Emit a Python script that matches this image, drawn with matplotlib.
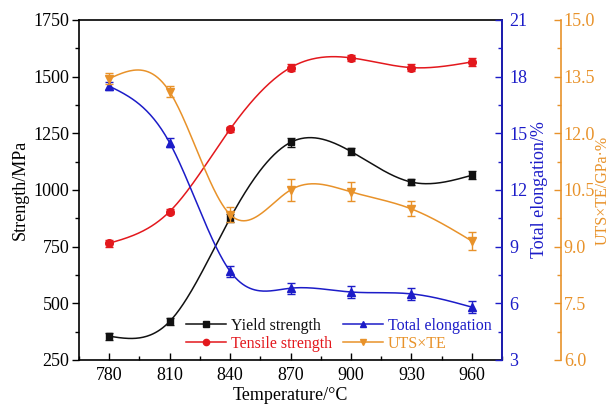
import numpy as np
import matplotlib
matplotlib.use("Agg")
import matplotlib.pyplot as plt
from matplotlib.ticker import MultipleLocator, FormatStrFormatter

plt.rcParams['font.family'] = ['Liberation Serif', 'DejaVu Serif']

temperature = [780, 810, 840, 870, 900, 930, 960]
yield_strength = [355, 420, 875, 1210, 1170, 1035, 1065]
yield_err = [15, 15, 18, 20, 15, 15, 18]
tensile_strength = [765, 905, 1268, 1540, 1583, 1540, 1565]
tensile_err = [15, 12, 12, 15, 12, 15, 18]
total_elongation = [17.5, 14.5, 7.7, 6.8, 6.6, 6.5, 5.8]
elongation_err = [0.2, 0.25, 0.3, 0.3, 0.3, 0.3, 0.3]
uts_te = [13.45, 13.1, 9.85, 10.5, 10.45, 10.0, 9.15]
uts_te_err = [0.15, 0.15, 0.2, 0.3, 0.25, 0.2, 0.25]

C_BLACK = '#111111'
C_RED = '#e3181d'
C_BLUE = '#1c1cc8'
C_ORANGE = '#e8922a'


def natural_spline(x, y, n=300):
    """Natural cubic spline through (x, y) for a smooth connecting line."""
    x = np.asarray(x, float)
    y = np.asarray(y, float)
    m = len(x)
    h = np.diff(x)
    A = np.zeros((m, m))
    r = np.zeros(m)
    A[0, 0] = A[-1, -1] = 1.0
    for i in range(1, m - 1):
        A[i, i - 1] = h[i - 1]
        A[i, i] = 2 * (h[i - 1] + h[i])
        A[i, i + 1] = h[i]
        r[i] = 6 * ((y[i + 1] - y[i]) / h[i] - (y[i] - y[i - 1]) / h[i - 1])
    M = np.linalg.solve(A, r)
    xs = np.linspace(x[0], x[-1], n)
    idx = np.clip(np.searchsorted(x, xs) - 1, 0, m - 2)
    x0, x1 = x[idx], x[idx + 1]
    hh = x1 - x0
    a = (x1 - xs) / hh
    b = (xs - x0) / hh
    ys = (a * y[idx] + b * y[idx + 1]
          + ((a ** 3 - a) * M[idx] + (b ** 3 - b) * M[idx + 1]) * hh ** 2 / 6)
    return xs, ys


fig = plt.figure(figsize=(6.11, 4.05), dpi=100)
ax = fig.add_axes([79 / 611, 1 - 360 / 405, 423 / 611, 340 / 405])
ax2 = ax.twinx()
ax3 = ax.twinx()

FS = 13
LFS = 11.5


def draw(axis, y, err, color, marker, ms, label):
    xs, ys = natural_spline(temperature, y)
    axis.plot(xs, ys, color=color, lw=1.1, zorder=2)
    axis.errorbar(temperature, y, yerr=err, fmt='none', ecolor=color,
                  elinewidth=1.0, capsize=3, capthick=1.0, zorder=3)
    axis.plot(temperature, y, linestyle='none', marker=marker, ms=ms,
              color=color, zorder=4)
    return axis.plot([], [], color=color, lw=1.1, marker=marker, ms=4.5,
                     label=label)[0]


h_yield = draw(ax, yield_strength, yield_err, C_BLACK, 's', 5, 'Yield strength')
h_tens = draw(ax, tensile_strength, tensile_err, C_RED, 'o', 5.5, 'Tensile strength')
h_elong = draw(ax2, total_elongation, elongation_err, C_BLUE, '^', 5.5, 'Total elongation')
h_uts = draw(ax3, uts_te, uts_te_err, C_ORANGE, 'v', 5.5, 'UTS×TE')

# primary axis
ax.set_xlim(765, 975)
ax.set_ylim(250, 1750)
ax.set_xticks(temperature)
ax.xaxis.set_minor_locator(MultipleLocator(15))
ax.yaxis.set_major_locator(MultipleLocator(250))
ax.yaxis.set_minor_locator(MultipleLocator(125))
ax.tick_params(axis='y', which='both', direction='out', labelsize=FS, pad=2)
ax.tick_params(axis='y', which='major', length=5, width=1)
ax.tick_params(axis='y', which='minor', length=3, width=1)
ax.tick_params(axis='x', which='both', direction='in', labelsize=FS, pad=5)
ax.tick_params(axis='x', which='major', length=5, width=1)
ax.tick_params(axis='x', which='minor', length=3, width=1)
ax.set_xlabel('Temperature/°C', fontsize=FS, labelpad=2)
ax.set_ylabel('Strength/MPa', fontsize=FS, labelpad=3)
for s in ax.spines.values():
    s.set_linewidth(1.2)

# elongation axis
ax2.set_ylim(3, 21)
ax2.yaxis.set_major_locator(MultipleLocator(3))
ax2.yaxis.set_minor_locator(MultipleLocator(1.5))
ax2.spines['right'].set_color(C_BLUE)
ax2.spines['right'].set_linewidth(1.2)
ax2.tick_params(axis='y', which='both', direction='in', colors=C_BLUE,
                labelsize=FS, width=1, pad=5)
ax2.tick_params(axis='y', which='major', length=5)
ax2.tick_params(axis='y', which='minor', length=3)
ax2.set_ylabel('Total elongation/%', color=C_BLUE, fontsize=FS, labelpad=3)

# UTS x TE axis
ax3.spines['right'].set_position(('axes', 1 + 59 / 423))
ax3.spines['right'].set_color(C_ORANGE)
ax3.spines['right'].set_linewidth(1.2)
ax3.set_ylim(6, 15)
ax3.yaxis.set_major_locator(MultipleLocator(1.5))
ax3.yaxis.set_minor_locator(MultipleLocator(0.75))
ax3.yaxis.set_major_formatter(FormatStrFormatter('%.1f'))
ax3.tick_params(axis='y', which='both', direction='in', colors=C_ORANGE,
                labelsize=FS, width=1, pad=2)
ax3.tick_params(axis='y', which='major', length=5)
ax3.tick_params(axis='y', which='minor', length=3)
ax3.set_ylabel('UTS×TE/GPa·%', color=C_ORANGE, fontsize=11.5)
ax3.yaxis.label.set_rotation(90)
ax3.yaxis.label.set_rotation_mode('default')
ax3.yaxis.label.set_horizontalalignment('center')
ax3.yaxis.label.set_verticalalignment('center')
ax3.yaxis.set_label_coords(603 / 611, 1 - 190 / 405, transform=fig.transFigure)
for a in (ax2, ax3):
    for k in ('left', 'top', 'bottom'):
        a.spines[k].set_visible(False)

handles = [h_yield, h_tens, h_elong, h_uts]
leg = ax3.legend(handles=handles, ncol=2, frameon=False, fontsize=LFS,
                 loc='lower left',
                 bbox_to_anchor=(186 / 611, 1 - 352 / 405),
                 bbox_transform=fig.transFigure,
                 borderpad=0, borderaxespad=0, handlelength=2.5,
                 handletextpad=0.3, columnspacing=0.7, labelspacing=0.12)
for txt, c in zip(leg.get_texts(), [C_BLACK, C_RED, C_BLUE, C_ORANGE]):
    txt.set_color(c)

fig.savefig('out.png', dpi=100)
